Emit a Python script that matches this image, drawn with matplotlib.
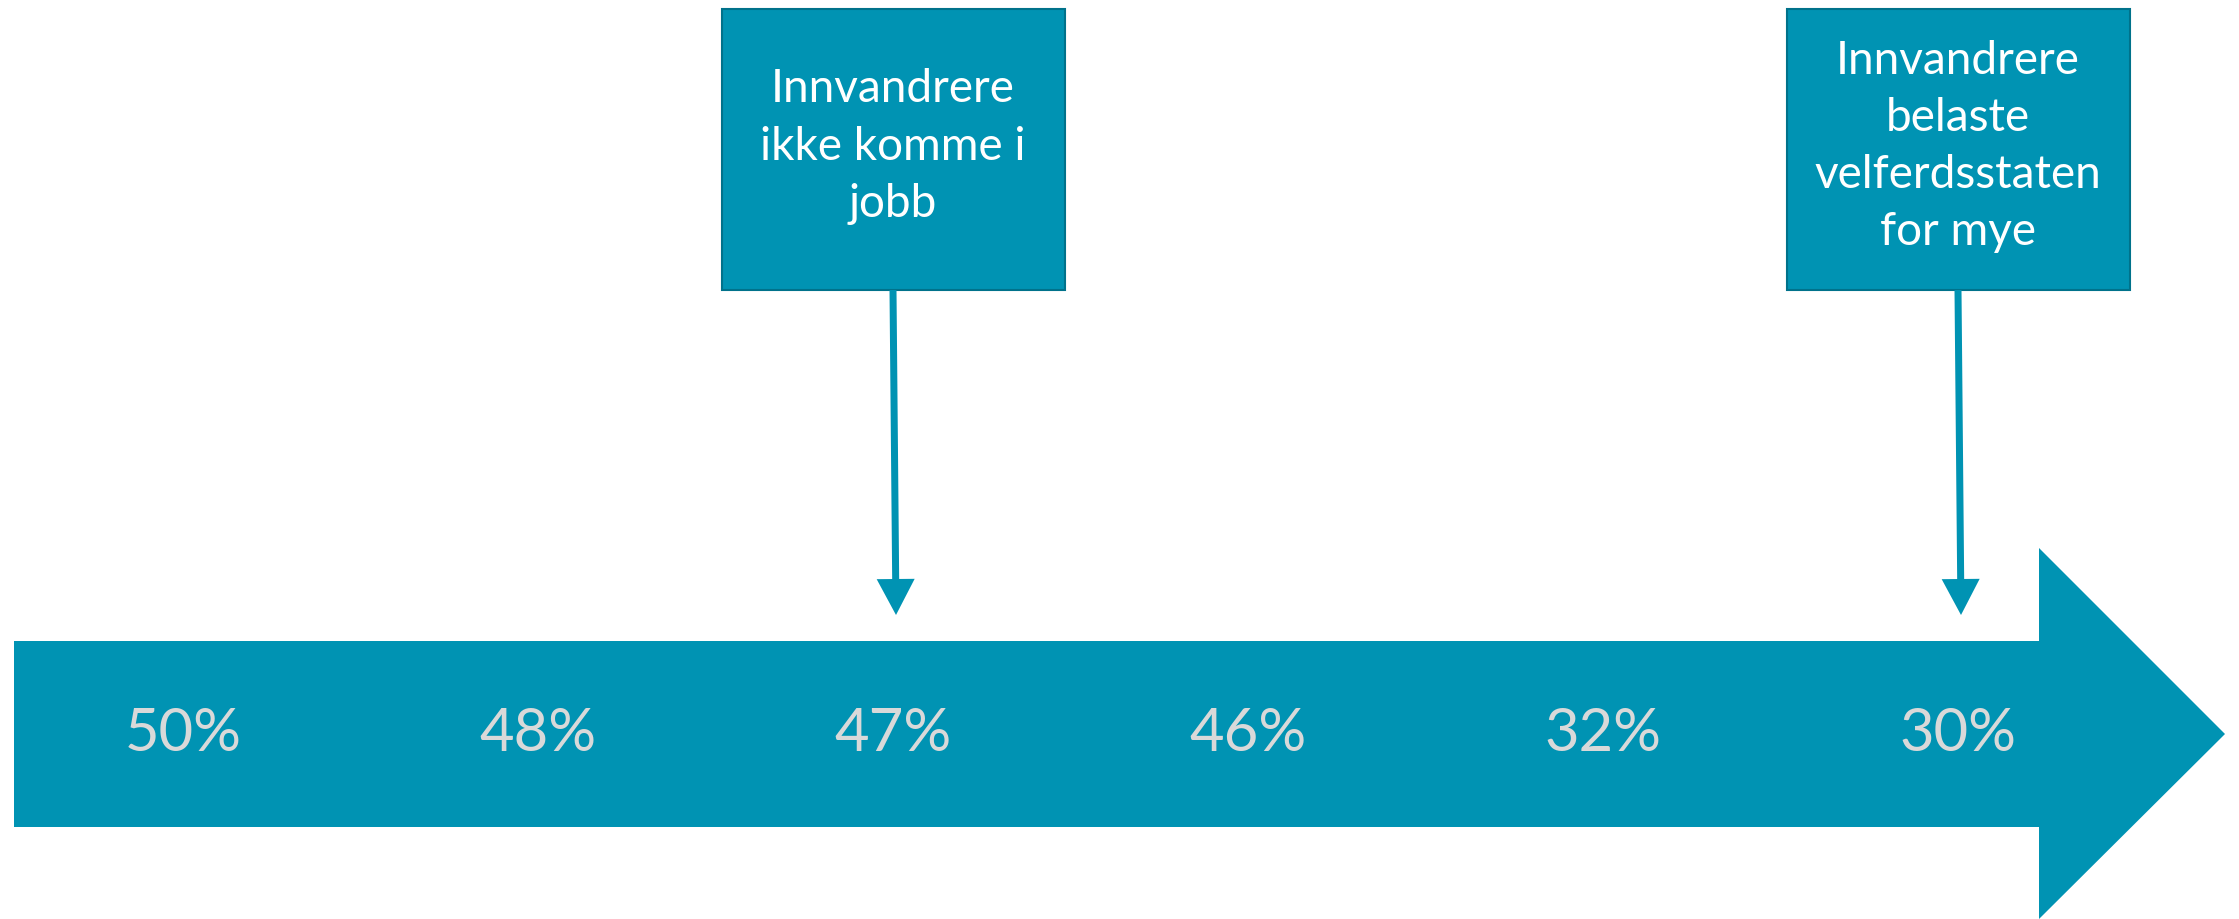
import matplotlib
matplotlib.use("Agg")
import matplotlib.pyplot as plt
from matplotlib.patches import Polygon, Rectangle, FancyArrow

# ---- data ----
labels = ["50%", "48%", "47%", "46%", "32%", "30%"]
values = [50, 48, 47, 46, 32, 30]
callout_texts = ["Innvandrere\nikke komme i\njobb",
                 "Innvandrere\nbelaste\nvelferdsstaten\nfor mye"]
callout_index = [2, 5]

# ---- style ----
TEAL = "#0093B3"
EDGE = "#00728B"
LABEL_COL = "#D9D9D9"
FONT = "Lato"

W, H = 2239, 919
fig = plt.figure(figsize=(W / 100, H / 100), dpi=100)
ax = fig.add_axes([0, 0, 1, 1])
ax.set_xlim(0, W)
ax.set_ylim(H, 0)
ax.axis("off")

# big arrow
body_l, body_r, body_t, body_b = 14, 2039, 641, 827
head_t, head_b, tip_x = 548, 919, 2225
mid_y = (body_t + body_b) / 2
arrow = Polygon([(body_l, body_t), (body_r, body_t), (body_r, head_t),
                 (tip_x, mid_y), (body_r, head_b), (body_r, body_b),
                 (body_l, body_b)], closed=True, facecolor=TEAL,
                edgecolor="none")
ax.add_patch(arrow)

# labels along arrow
x0, dx = 183, 355
xs = [x0 + i * dx for i in range(len(values))]
for x, lab in zip(xs, labels):
    ax.text(x, mid_y, lab, ha="center", va="center", color=LABEL_COL,
            fontsize=43, family=FONT)

# callouts
box_w, box_t, box_b = 343, 9, 290
for txt, idx in zip(callout_texts, callout_index):
    cx = xs[idx]
    rect = Rectangle((cx - box_w / 2, box_t), box_w, box_b - box_t,
                     facecolor=TEAL, edgecolor=EDGE, linewidth=1.5)
    ax.add_patch(rect)
    ax.text(cx, (box_t + box_b) / 2 - 3, txt, ha="center", va="center",
            color="white", fontsize=33, family=FONT, linespacing=1.45)
    ax.add_patch(FancyArrow(cx, box_b, 3, 615 - box_b, width=7,
                            head_width=38, head_length=36,
                            length_includes_head=True,
                            facecolor=TEAL, edgecolor="none"))

fig.savefig("out.png", dpi=100)
